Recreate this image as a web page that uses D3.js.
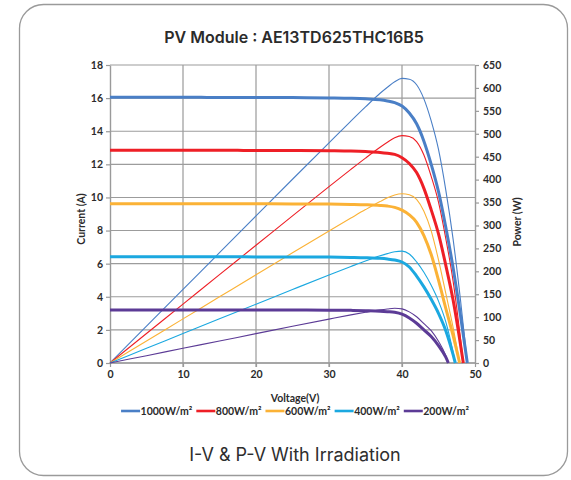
<!DOCTYPE html>
<html>
<head>
<meta charset="utf-8">
<script src="https://cdn.jsdelivr.net/npm/d3@7"></script>
<style>
  html, body { margin: 0; padding: 0; background: #ffffff; }
  svg { display: block; }
</style>
</head>
<body>
<svg id="chart" width="571" height="480"></svg>
<script>
// ---------------- data ----------------
const seriesNames = ["1000W/m²", "800W/m²", "600W/m²", "400W/m²", "200W/m²"];

const v1000 = [0,5,10,15,20,25,30,33,35,37,38,39,40,41,42,43,44,45,46,47,48,48.95];
const i1000 = [16.05,16.05,16.05,16.04,16.04,16.03,16.01,15.99,15.96,15.9,15.83,15.73,15.52,15.1,14.45,13.4,12.0,10.35,8.2,5.75,2.9,0];
const p1000 = [0,80.3,160.5,240.6,320.8,400.8,480.3,527.7,558.6,588.3,601.5,613.5,620.8,619.1,606.9,576.2,528.0,465.8,377.2,270.3,139.2,0];

const v800 = [0,5,10,15,20,25,30,33,35,37,38,39,40,41,42,43,44,45,46,47,48,48.4];
const i800 = [12.85,12.85,12.85,12.85,12.84,12.84,12.82,12.8,12.77,12.72,12.67,12.6,12.4,12.05,11.5,10.55,9.25,7.8,5.9,3.8,1.15,0];
const p800 = [0,64.3,128.5,192.8,256.8,321.0,384.6,422.4,447.0,470.6,481.5,491.4,496.0,494.1,483.0,453.7,407.0,351.0,271.4,178.6,55.2,0];

const v600 = [0,5,10,15,20,25,30,33,35,37,38,39,40,41,42,43,44,45,46,47,47.9];
const i600 = [9.62,9.62,9.62,9.62,9.62,9.61,9.6,9.58,9.56,9.52,9.48,9.4,9.23,8.95,8.5,7.7,6.55,5.0,3.3,1.65,0];
const p600 = [0,48.1,96.2,144.3,192.4,240.3,288.0,316.1,334.6,352.2,360.2,366.6,369.2,367.0,357.0,331.1,288.2,225.0,151.8,77.6,0];

const v400 = [0,5,10,15,20,25,30,33,35,37,38,39,40,41,42,43,44,45,46,47,47.3];
const i400 = [6.42,6.42,6.42,6.42,6.41,6.41,6.4,6.38,6.36,6.32,6.28,6.22,6.1,5.8,5.25,4.6,3.85,3.0,1.95,0.5,0];
const p400 = [0,32.1,64.2,96.3,128.2,160.3,192.0,210.5,222.6,233.8,238.6,242.6,244.0,237.8,220.5,197.8,169.4,135.0,89.7,23.5,0];

const v200 = [0,5,10,15,20,25,30,33,35,37,38,39,40,41,42,43,44,45,46,46.35];
const i200 = [3.2,3.2,3.2,3.2,3.2,3.2,3.19,3.18,3.16,3.13,3.1,3.06,2.95,2.72,2.4,2.0,1.6,1.05,0.35,0];
const p200 = [0,16.0,32.0,48.0,64.0,80.0,95.7,104.9,110.6,115.8,117.8,119.3,118.0,111.5,100.8,86.0,70.4,47.3,16.1,0];

const xTicks = [0,10,20,30,40,50];
const yTicks = [0,2,4,6,8,10,12,14,16,18];
const pTicks = [0,50,100,150,200,250,300,350,400,450,500,550,600,650];

// ---------------- styles ----------------
const colors = ["#4a7fc6", "#ee1f26", "#fbb236", "#1ba8e0", "#5c3b96"];
const FONT = "Lato, 'Open Sans', sans-serif";

const svg = d3.select("#chart");

// card
svg.append("rect")
  .attr("x", 19.5).attr("y", 4.5).attr("width", 548).attr("height", 471)
  .attr("rx", 24).attr("ry", 24)
  .attr("fill", "#fff").attr("stroke", "#9a9a9a").attr("stroke-width", 1.3);

// title
svg.append("text")
  .attr("x", 294).attr("y", 43)
  .attr("text-anchor", "middle")
  .attr("font-family", "Inter, sans-serif").attr("font-weight", 600)
  .attr("font-size", 16).attr("fill", "#2b2b2b")
  .text("PV Module : AE13TD625THC16B5");

const L = 110, R = 475, T = 65, B = 363;
const x = d3.scaleLinear().domain([0, 50]).range([L, R]);
const y = d3.scaleLinear().domain([0, 18]).range([B, T]);
const yP = d3.scaleLinear().domain([0, 650]).range([B, T]);

// grid
const grid = svg.append("g");
grid.selectAll("line.v").data(xTicks.slice(1, -1)).join("line")
  .attr("x1", d => x(d)).attr("x2", d => x(d)).attr("y1", T).attr("y2", B + 4)
  .attr("stroke", "#bcbcbc").attr("stroke-width", 1.8);
grid.selectAll("line.h").data(yTicks).join("line")
  .attr("x1", L).attr("x2", R).attr("y1", d => y(d)).attr("y2", d => y(d))
  .attr("stroke", "#9c9c9c").attr("stroke-width", 1.1);

// axes
const axL = svg.append("g").attr("transform", `translate(${L},0)`)
  .call(d3.axisLeft(y).tickValues(yTicks).tickSize(4).tickPadding(3).tickSizeOuter(0));
const axR = svg.append("g").attr("transform", `translate(${R},0)`)
  .call(d3.axisRight(yP).tickValues(pTicks).tickSize(4).tickPadding(4).tickSizeOuter(0));
const axB = svg.append("g").attr("transform", `translate(0,${B})`)
  .call(d3.axisBottom(x).tickValues(xTicks).tickSize(4).tickPadding(4).tickSizeOuter(0));
[axL, axR, axB].forEach(a => {
  a.select(".domain").attr("stroke", "#9a9a9a").attr("stroke-width", 1.4);
  a.selectAll(".tick line").attr("stroke", "#9a9a9a").attr("stroke-width", 1.2);
  a.selectAll(".tick text").attr("font-family", FONT).attr("font-weight", 700)
    .attr("font-size", 10.5).attr("fill", "#2b2b2b");
});
axB.select(".domain").remove();
svg.append("line").attr("x1", L).attr("x2", R).attr("y1", B).attr("y2", B)
  .attr("stroke", "#9a9a9a").attr("stroke-width", 1.4);

// axis titles
svg.append("text")
  .attr("transform", "translate(85,219) rotate(-90)")
  .attr("text-anchor", "middle").attr("font-family", FONT).attr("font-weight", 700)
  .attr("font-size", 10.5).attr("fill", "#2b2b2b").text("Current (A)");
svg.append("text")
  .attr("transform", "translate(521,222) rotate(-90)")
  .attr("text-anchor", "middle").attr("font-family", FONT).attr("font-weight", 700)
  .attr("font-size", 10.5).attr("fill", "#2b2b2b").text("Power (W)");
svg.append("text")
  .attr("x", 295).attr("y", 402)
  .attr("text-anchor", "middle").attr("font-family", FONT).attr("font-weight", 700)
  .attr("font-size", 10.5).attr("fill", "#2b2b2b").text("Voltage(V)");

// curves
const V = [v1000, v800, v600, v400, v200];
const I = [i1000, i800, i600, i400, i200];
const P = [p1000, p800, p600, p400, p200];

const lineI = d3.line().x(d => x(d[0])).y(d => y(d[1])).curve(d3.curveMonotoneX);
const lineP = d3.line().x(d => x(d[0])).y(d => yP(d[1])).curve(d3.curveMonotoneX);

const curves = svg.append("g");
seriesNames.forEach((name, k) => {
  const ptsP = V[k].map((v, j) => [v, P[k][j]]);
  curves.append("path").attr("d", lineP(ptsP))
    .attr("fill", "none").attr("stroke", colors[k]).attr("stroke-width", 1.1);
});
seriesNames.forEach((name, k) => {
  const ptsI = V[k].map((v, j) => [v, I[k][j]]);
  curves.append("path").attr("d", lineI(ptsI))
    .attr("fill", "none").attr("stroke", colors[k]).attr("stroke-width", 3)
    .attr("stroke-linejoin", "round");
});

// legend
const leg = svg.append("g");
let cx = 0;
seriesNames.forEach((name, k) => {
  const g = leg.append("g").attr("transform", `translate(${cx},0)`);
  g.append("line").attr("x1", 0).attr("x2", 19).attr("y1", 0).attr("y2", 0)
    .attr("stroke", colors[k]).attr("stroke-width", 2.6);
  const t = g.append("text").attr("x", 19.5).attr("y", 3.8)
    .attr("font-family", FONT).attr("font-weight", 700).attr("font-size", 10.5)
    .attr("fill", "#2b2b2b").text(name);
  cx += 19.5 + t.node().getComputedTextLength() + 4;
});
const legW = cx - 4;
leg.attr("transform", `translate(${295 - legW / 2},411)`);

// footer
svg.append("text")
  .attr("x", 295).attr("y", 461)
  .attr("text-anchor", "middle").attr("font-family", "Inter, sans-serif")
  .attr("font-weight", 400).attr("font-size", 18).attr("fill", "#2e2e2e")
  .text("I-V & P-V With Irradiation");
</script>
</body>
</html>
